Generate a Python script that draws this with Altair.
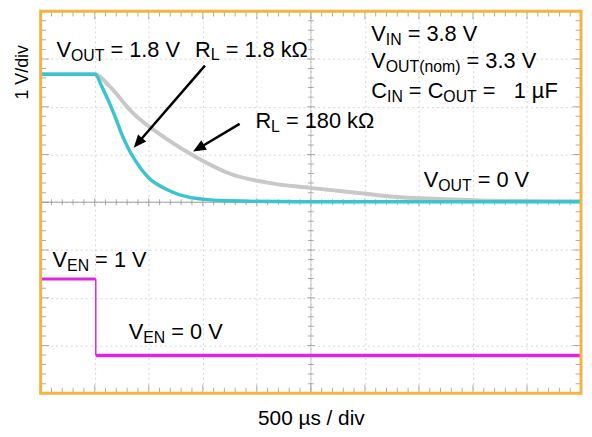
import math
import altair as alt
import pandas as pd

FONT = "Liberation Sans"
ORANGE = "#f2b440"
CYAN = "#38c6cc"
GREY_TRACE = "#c8c8c8"
MAGENTA = "#e024e0"
GRID = "#d6d6d6"
TICK = "#8c8c8c"

W_PLOT, H_PLOT = 546, 386
T_MAX = 5000.0          # 10 div x 500 us
Y_MIN, Y_MAX = -4, 4    # 8 vertical divisions
US_PER_PX = T_MAX / W_PLOT
PX_PER_DIV = H_PLOT / (Y_MAX - Y_MIN)

# ---- traces (time in us, vertical position in divisions) ----
rl_1k8_t = [0, 504, 568, 632, 696, 751, 815, 879, 998, 1154, 1392, 1731, 2372, 5000]
rl_1k8_v = [2.68, 2.68, 2.41, 2.10, 1.75, 1.42, 1.11, 0.86, 0.51, 0.28, 0.095, 0.03, 0.01, 0.01]
rl_180k_t = [0, 504, 632, 842, 1154, 1456, 1758, 2097, 2491, 2985, 3352, 3654, 4203, 5000]
rl_180k_v = [2.68, 2.68, 2.44, 1.89, 1.34, 0.92, 0.59, 0.41, 0.30, 0.18, 0.10, 0.07, 0.03, 0.02]
ven_high_t = [0, 510]
ven_high_v = [-1.61, -1.61]
ven_low_t = [510, 5000]
ven_low_v = [-3.21, -3.21]
ven_edge_t = [510]
ven_edge_v = [-1.61]
ven_edge_v2 = [-3.21]

# ---- grid / tick positions ----
x_grid = [500, 1000, 1500, 2000, 2500, 3000, 3500, 4000, 4500]
y_grid = [-3, -2, -1, 0, 1, 2, 3]
x_minor = [k * 100 for k in range(1, 50) if k % 5]
x_major = [k * 500 for k in range(1, 10)]
y_minor = [round(-4 + 0.2 * k, 1) for k in range(1, 40) if k % 5]
y_major = [-3, -2, -1, 0, 1, 2, 3]

# ---- annotations: anchor (left, baseline) and parts (text, subscript?) ----
ann_t = [146, 1429, 1987, 3059, 3059, 3059, 3544, 110, 815]
ann_v = [3.03, 3.05, 1.55, 3.38, 2.80, 2.19, 0.31, -1.35, -2.86]
ann_parts = [
    [("V", 0), ("OUT", 1), (" = 1.8 V", 0)],
    [("R", 0), ("L", 1), (" = 1.8 kΩ", 0)],
    [("R", 0), ("L", 1), (" = 180 kΩ", 0)],
    [("V", 0), ("IN", 1), (" = 3.8 V", 0)],
    [("V", 0), ("OUT(nom)", 1), (" = 3.3 V", 0)],
    [("C", 0), ("IN", 1), (" = C", 0), ("OUT", 1), (" =", 0), ("   1 µF", 0)],
    [("V", 0), ("OUT", 1), (" = 0 V", 0)],
    [("V", 0), ("EN", 1), (" = 1 V", 0)],
    [("V", 0), ("EN", 1), (" = 0 V", 0)],
]

# y-axis caption, placed left of the frame (time / division coordinates)
ytitle_text = ["1 V/div"]
ytitle_t = [-13 * US_PER_PX]
ytitle_v = [2.72]

# ---- arrows ----
arrow_tail_t = [1520, 1841]
arrow_tail_v = [2.86, 1.64]
arrow_tip_t = [861, 1410]
arrow_tip_v = [1.14, 1.06]

FS_MAIN, FS_SUB = 22, 16
ADV = {' ': .278, '=': .584, '.': .278, 'V': .667, 'O': .778, 'U': .722, 'T': .611,
       'R': .722, 'L': .556, 'k': .5, 'Ω': .768, 'I': .278, 'N': .722, 'E': .667,
       'C': .722, '(': .333, ')': .333, 'n': .556, 'o': .556, 'm': .833, 'µ': .576,
       'F': .611}
for d in "0123456789":
    ADV[d] = .556

main_rows, sub_rows = [], []
for t0, v0, parts in zip(ann_t, ann_v, ann_parts):
    off = 0.0
    for txt, sub in parts:
        fs = FS_SUB if sub else FS_MAIN
        s = txt.lstrip(" ")
        off += (len(txt) - len(s)) * ADV[" "] * fs
        row = {"t": t0 + off * US_PER_PX, "v": v0, "txt": s}
        (sub_rows if sub else main_rows).append(row)
        off += sum(ADV.get(c, .6) for c in s) * fs
main_df = pd.DataFrame(main_rows)
sub_df = pd.DataFrame(sub_rows)

HEAD = 13.0
shaft_rows, head_rows = [], []
for t1, v1, t2, v2 in zip(arrow_tail_t, arrow_tail_v, arrow_tip_t, arrow_tip_v):
    dx = (t2 - t1) / US_PER_PX
    dy = -(v2 - v1) * PX_PER_DIV
    n = math.hypot(dx, dy)
    ang = math.degrees(math.atan2(dx, -dy)) % 360
    ex = t2 - (dx / n) * HEAD * 0.7 * US_PER_PX
    ey = v2 + (dy / n) * HEAD * 0.7 / PX_PER_DIV
    shaft_rows.append({"t": t1, "v": v1, "t2": ex, "v2": ey})
    head_rows.append({"t": t2, "v": v2, "ang": ang})
shaft_df = pd.DataFrame(shaft_rows)
head_df = pd.DataFrame(head_rows)

xs = alt.Scale(domain=[0, T_MAX], nice=False, zero=False)
ys = alt.Scale(domain=[Y_MIN, Y_MAX], nice=False, zero=False)
x_axis = alt.Axis(values=x_grid, grid=True, gridDash=[2, 3], gridColor=GRID, gridWidth=1,
                  labels=False, ticks=False, domain=False, title="500 µs / div",
                  titleFont=FONT, titleFontSize=21, titleFontWeight="normal",
                  titleColor="black", titleX=W_PLOT / 2, titleY=32,
                  titleBaseline="alphabetic", titleAlign="center")
y_axis = alt.Axis(values=y_grid, grid=True, gridDash=[2, 3], gridColor=GRID, gridWidth=1,
                  labels=False, ticks=False, domain=False, title="")


def X(f="t"):
    return alt.X(f"{f}:Q", scale=xs, axis=x_axis)


def Y(f="v"):
    return alt.Y(f"{f}:Q", scale=ys, axis=y_axis)


# center lines
hcenter = alt.Chart(pd.DataFrame({"t": [0], "t2": [T_MAX], "v": [0]})).mark_rule(
    color="#9c9c9c", strokeWidth=1).encode(x=X(), x2="t2:Q", y=Y())
vcenter = alt.Chart(pd.DataFrame({"t": [2500], "v": [Y_MIN], "v2": [Y_MAX]})).mark_rule(
    color="#c4c4c4", strokeWidth=1).encode(x=X(), y=Y(), y2="v2:Q")


def vticks(xpos, vrow, size):
    df = pd.DataFrame([{"t": x, "v": v} for v in vrow for x in xpos])
    return alt.Chart(df).mark_tick(orient="vertical", size=size, thickness=1,
                                   color=TICK, clip=True).encode(x=X(), y=Y())


def hticks(ypos, trow, size):
    df = pd.DataFrame([{"t": t, "v": y} for t in trow for y in ypos])
    return alt.Chart(df).mark_tick(orient="horizontal", size=size, thickness=1,
                                   color=TICK, clip=True).encode(x=X(), y=Y())


ticks = [
    vticks(x_minor, [Y_MIN, Y_MAX], 11), vticks(x_major, [Y_MIN, Y_MAX], 17),
    hticks(y_minor, [0, T_MAX], 11), hticks(y_major, [0, T_MAX], 17),
    vticks(x_minor, [0], 6), vticks(x_major, [0], 8),
    hticks(y_minor, [2500], 6), hticks(y_major, [2500], 8),
]

grey = alt.Chart(pd.DataFrame({"t": rl_180k_t, "v": rl_180k_v})).mark_line(
    color=GREY_TRACE, strokeWidth=4, interpolate="monotone").encode(x=X(), y=Y())
cyan = alt.Chart(pd.DataFrame({"t": rl_1k8_t, "v": rl_1k8_v})).mark_line(
    color=CYAN, strokeWidth=3.5, interpolate="monotone").encode(x=X(), y=Y())
ven_hi = alt.Chart(pd.DataFrame({"t": ven_high_t, "v": ven_high_v})).mark_line(
    color=MAGENTA, strokeWidth=3).encode(x=X(), y=Y())
ven_lo = alt.Chart(pd.DataFrame({"t": ven_low_t, "v": ven_low_v})).mark_line(
    color=MAGENTA, strokeWidth=3.5).encode(x=X(), y=Y())
ven_edge = alt.Chart(pd.DataFrame({"t": ven_edge_t, "v": ven_edge_v, "v2": ven_edge_v2})).mark_rule(
    color=MAGENTA, strokeWidth=1.5).encode(x=X(), y=Y(), y2="v2:Q")

shafts = alt.Chart(shaft_df).mark_rule(color="black", strokeWidth=2.5).encode(
    x=X(), y=Y(), x2="t2:Q", y2="v2:Q")
heads = alt.Chart(head_df).mark_point(
    shape="M0,0L-0.42,1L0.42,1Z", size=(2 * HEAD) ** 2, filled=True, color="black",
    opacity=1, strokeWidth=0).encode(x=X(), y=Y(), angle=alt.Angle("ang:Q", scale=None))

txt_main = alt.Chart(main_df).mark_text(
    align="left", baseline="alphabetic", font=FONT, fontSize=FS_MAIN, color="black").encode(
    x=X(), y=Y(), text="txt:N")
txt_sub = alt.Chart(sub_df).mark_text(
    align="left", baseline="alphabetic", font=FONT, fontSize=FS_SUB, color="black", dy=4).encode(
    x=X(), y=Y(), text="txt:N")
ytitle = alt.Chart(pd.DataFrame({"t": ytitle_t, "v": ytitle_v, "txt": ytitle_text})).mark_text(
    align="center", baseline="alphabetic", font=FONT, fontSize=18, color="black",
    angle=270).encode(x=X(), y=Y(), text="txt:N")

border = alt.Chart(pd.DataFrame({"t": [0], "t2": [T_MAX], "v": [Y_MIN], "v2": [Y_MAX]})).mark_rect(
    fillOpacity=0, stroke=ORANGE, strokeWidth=3).encode(x=X(), x2="t2:Q", y=Y(), y2="v2:Q")

chart = alt.layer(
    hcenter, vcenter, *ticks, grey, cyan, ven_hi, ven_lo, ven_edge,
    shafts, heads, txt_main, txt_sub, ytitle, border
).properties(
    width=W_PLOT, height=H_PLOT,
    autosize=alt.AutoSizeParams(type="none"),
    padding={"left": 33, "top": 1, "right": 3, "bottom": 37},
    background="white",
).configure_view(strokeWidth=0)

chart.save("out.html", embed_options={"renderer": "svg", "actions": False})
